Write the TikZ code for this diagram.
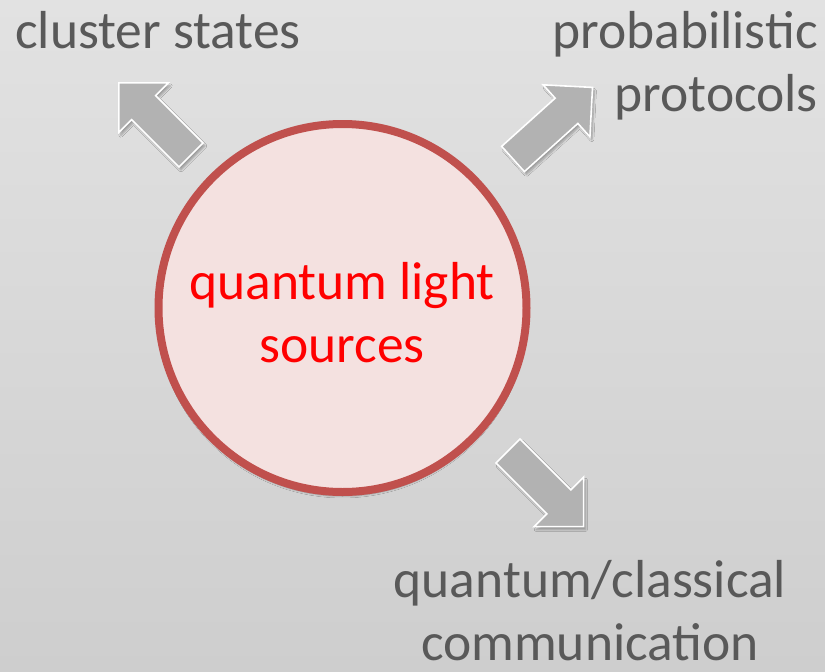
\documentclass[tikz,border=0pt]{standalone}
\usepackage{fontspec}
\setmainfont{Carlito}
\usetikzlibrary{shadows.blur}
\definecolor{bgtop}{RGB}{226,226,226}
\definecolor{bgbot}{RGB}{206,206,206}
\definecolor{circred}{RGB}{192,80,77}
\definecolor{circfill}{RGB}{244,225,224}
\definecolor{arrfill}{RGB}{178,178,178}
\definecolor{labgray}{RGB}{89,89,89}
\definecolor{srcred}{RGB}{255,0,0}
\tikzset{
  arrowbody/.style={fill=arrfill, draw=white, line width=1.6pt, line join=miter,
    blur shadow={shadow xshift=2pt, shadow yshift=-3pt, shadow opacity=30, shadow blur steps=6}},
  pics/blockarrow/.style={code={
    \path[arrowbody] (0,-17) -- (#1,-17) -- (#1,-35) -- (#1+35,0) -- (#1,35) -- (#1,17) -- (0,17) -- cycle;
  }},
  bigfont/.style={font=\fontsize{53.5}{63}\selectfont, inner sep=0pt},
  outlabel/.style={bigfont, text=labgray},
}
\begin{document}
\begin{tikzpicture}[x=1pt,y=-1pt]
\fill[top color=bgtop, bottom color=bgbot] (0,0) rectangle (825,672);
\useasboundingbox (0,0) rectangle (825,672);
\pic[rotate=135] (arrA) at (191,155) {blockarrow=67};
\pic[rotate=42] (arrB) at (513,159) {blockarrow=72};
\pic[rotate=-45] (arrC) at (508,451) {blockarrow=72};
\node[circle, draw=circred, line width=8pt, fill=circfill, minimum size=368pt, inner sep=0pt,
  blur shadow={shadow xshift=0pt, shadow yshift=-4pt, shadow opacity=30, shadow blur steps=8}] (src) at (342.5,308) {};
\node[bigfont, text=srcred, align=center, anchor=base] (srctext) at (342,362) {quantum light\\sources};
\node[outlabel, anchor=base west] (cluster) at (15,48) {cluster states};
\node[outlabel, anchor=base east, align=right] (prob) at (818,111) {probabilistic\\protocols};
\node[outlabel, anchor=base, align=center] (comm) at (590,660) {quantum/classical\\communication};
\end{tikzpicture}
\end{document}
